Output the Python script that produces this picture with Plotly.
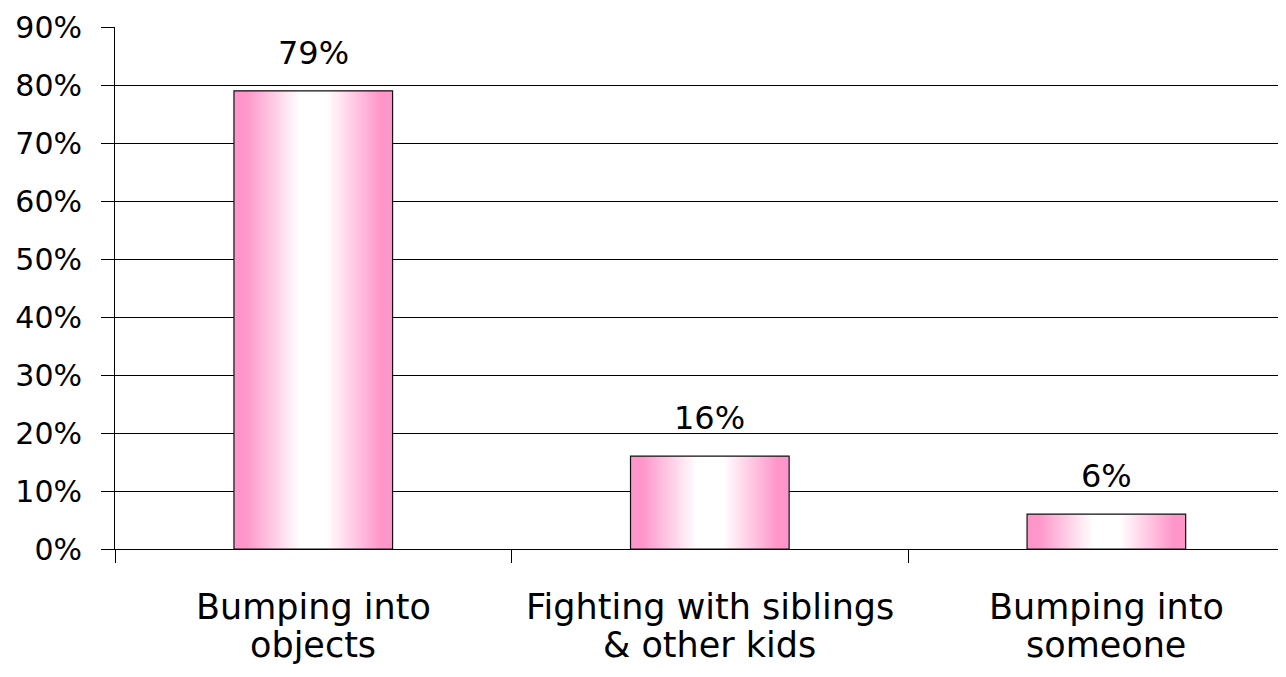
import plotly.graph_objects as go

categories = ["Bumping into<br>objects", "Fighting with siblings<br>& other kids", "Bumping into<br>someone"]
values = [79, 16, 6]
labels = ["79%", "16%", "6%"]
y_ticks = [0, 10, 20, 30, 40, 50, 60, 70, 80, 90]
y_tick_text = ["0%", "10%", "20%", "30%", "40%", "50%", "60%", "70%", "80%", "90%"]

FONT = "DejaVu Sans"
PINK = (255, 150, 202)
BAR_W = 0.40
N = 48

def mix(t):
    # t: distance from bar centre relative to half width (0..1)
    f = (t - 0.18) / (0.86 - 0.18)
    f = max(0.0, min(1.0, f))
    r = round(255 + (PINK[0] - 255) * f)
    g = round(255 + (PINK[1] - 255) * f)
    b = round(255 + (PINK[2] - 255) * f)
    return f"rgb({r},{g},{b})"

fig = go.Figure()
for k in range(N):
    t = 1 - k / N
    fig.add_trace(go.Bar(
        x=categories, y=values, width=BAR_W * t,
        marker=dict(color=mix(t), line=dict(width=0)),
        hoverinfo="skip", showlegend=False,
    ))
# outline
fig.add_trace(go.Bar(
    x=categories, y=values, width=BAR_W,
    marker=dict(color="rgba(0,0,0,0)", line=dict(color="#111111", width=1.2)),
    hoverinfo="skip", showlegend=False,
))

# data labels
for c, v, lab in zip(categories, values, labels):
    fig.add_annotation(x=c, y=v, text=lab, showarrow=False, yanchor="middle",
                       yshift=38, font=dict(family=FONT, size=32, color="black"))

# category labels (one annotation per line for tighter line spacing)
LINE_SHIFTS = [-58, -96]
for c in categories:
    for line, ys in zip(c.split("<br>"), LINE_SHIFTS):
        fig.add_annotation(x=c, y=0, text=line, showarrow=False, yanchor="middle",
                           yshift=ys, font=dict(family=FONT, size=35, color="black"))

fig.update_layout(
    width=1278, height=669,
    margin=dict(l=107, r=0, t=19, b=128),
    barmode="overlay",
    paper_bgcolor="white", plot_bgcolor="white",
    font=dict(family=FONT, color="black"),
    xaxis=dict(
        type="category", range=[-0.5, 2.453],
        showline=True, linecolor="black", linewidth=1,
        ticks="outside", tickson="boundaries", ticklen=13, tickcolor="black", tickwidth=1,
        showticklabels=False,
        showgrid=False, zeroline=False,
    ),
    yaxis=dict(
        range=[0, 90], tickvals=y_ticks, ticktext=y_tick_text,
        showline=True, linecolor="black", linewidth=1,
        ticks="outside", ticklen=13, tickcolor="black", tickwidth=1,
        tickfont=dict(family=FONT, size=30, color="black"),
        ticklabelstandoff=13,
        showgrid=True, gridcolor="black", gridwidth=1,
        zeroline=False,
    ),
)

fig.write_html("out.html")
